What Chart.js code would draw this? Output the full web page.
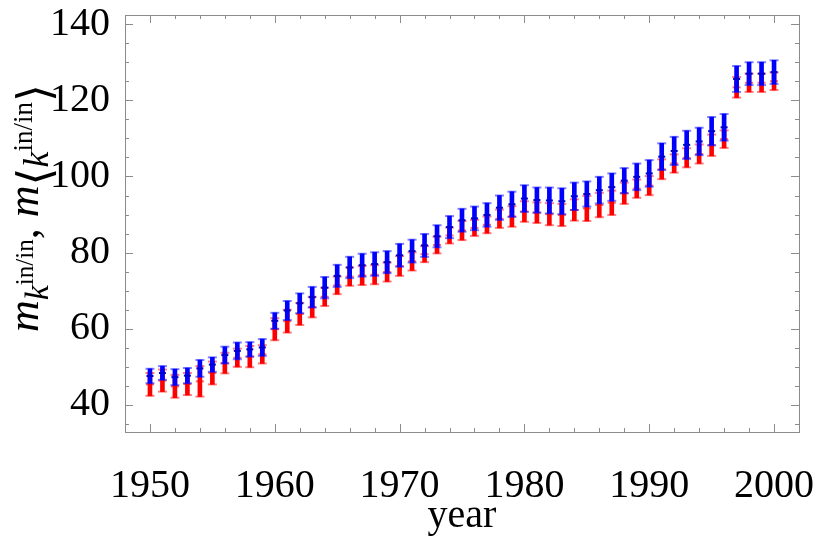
<!DOCTYPE html>
<html>
<head>
<meta charset="utf-8">
<script src="https://cdn.jsdelivr.net/npm/chart.js@4.4.0/dist/chart.umd.min.js"></script>
<style>
  html, body { margin: 0; padding: 0; background: #fff; }
  #wrap { width: 830px; height: 558px; }
</style>
</head>
<body>
<div id="wrap"><canvas id="chart" width="830" height="558"></canvas></div>
<script>
const years = [1950,1951,1952,1953,1954,1955,1956,1957,1958,1959,
  1960,1961,1962,1963,1964,1965,1966,1967,1968,1969,
  1970,1971,1972,1973,1974,1975,1976,1977,1978,1979,
  1980,1981,1982,1983,1984,1985,1986,1987,1988,1989,
  1990,1991,1992,1993,1994,1995,1996,1997,1998,1999,2000];

// m_k (red): value and error bar half width
const redVal = [45.4,46.4,44.9,45.5,46.2,48.4,51.0,52.4,52.7,53.3,
  59.9,62.0,63.9,65.7,68.4,71.4,73.7,74.0,74.2,74.9,
  76.5,77.7,79.6,82.0,84.5,85.8,86.5,87.3,88.9,89.5,
  90.8,90.5,90.1,89.9,91.2,91.6,92.5,93.1,95.6,96.8,
  97.6,101.9,103.4,104.9,105.9,108.2,109.8,123.4,124.6,124.6,125.0];
const redErr = [3.0,2.9,3.0,2.9,4.0,3.0,2.7,2.4,2.8,2.4,
  2.9,3.0,2.9,2.7,2.4,2.3,2.4,2.5,2.5,2.5,
  2.6,2.4,2.1,2.2,2.1,2.5,2.1,2.2,2.4,2.7,
  2.7,2.7,2.9,2.9,2.8,3.3,3.2,3.2,2.8,2.4,
  2.5,2.6,2.4,2.5,2.5,2.8,2.3,2.7,2.4,2.4,2.3];

// m_<k> (blue): value and error bar half width
const blueVal = [47.6,48.4,47.3,47.7,49.6,50.6,53.1,54.2,54.6,55.1,
  62.1,64.8,66.7,68.3,70.8,73.9,76.1,76.7,77.0,77.5,
  79.3,80.4,81.9,84.3,86.7,88.5,89.0,89.9,91.8,92.7,
  94.2,93.8,93.7,93.5,94.8,95.4,96.4,97.2,98.9,99.9,
  100.8,105.2,106.7,108.3,109.2,111.9,112.9,125.6,127.0,127.0,127.4];
const blueErr = [1.9,1.8,2.1,2.0,2.2,1.9,2.2,2.2,1.9,2.2,
  2.1,2.5,2.6,2.7,2.8,2.9,2.8,3.0,3.1,2.9,
  3.0,3.0,3.0,2.9,2.9,3.0,3.1,3.1,3.2,3.3,
  3.5,3.3,3.4,3.4,3.6,3.3,3.5,3.6,3.3,3.5,
  3.5,3.5,3.7,3.7,3.6,3.7,3.5,3.4,3.0,3.0,3.1];

const xTicks = [1950, 1960, 1970, 1980, 1990, 2000];
const yTicks = [40, 60, 80, 100, 120, 140];

const SERIF = "'Liberation Serif', 'DejaVu Serif', serif";
const RED = "#ff0000";
const BLUE = "#0000ff";

function barData(val, err) {
  return years.map((x, i) => ({ x, y: [val[i] - err[i], val[i] + err[i]] }));
}
function pts(val, err, sign) {
  return years.map((x, i) => ({ x, y: val[i] + sign * err[i] }));
}
function markSet(data, color, radius, width, order) {
  return {
    type: "scatter",
    data,
    pointStyle: "line",
    pointRadius: radius,
    pointBorderWidth: width,
    borderColor: color,
    backgroundColor: color,
    order
  };
}

// Mathematica style frame: box plus inward ticks on all four sides
const framePlugin = {
  id: "frame",
  afterDatasetsDraw(chart) {
    const { ctx, chartArea: a, scales: { x, y } } = chart;
    ctx.save();
    ctx.strokeStyle = "#8c8c8c";
    ctx.lineWidth = 1;
    ctx.beginPath();
    for (let v = 1948; v <= 2002; v += 2) {
      const px = Math.round(x.getPixelForValue(v)) + 0.5;
      const len = xTicks.includes(v) ? 8 : 4;
      ctx.moveTo(px, a.bottom); ctx.lineTo(px, a.bottom - len);
      ctx.moveTo(px, a.top); ctx.lineTo(px, a.top + len);
    }
    for (let v = 35; v <= 140; v += 5) {
      const py = Math.round(y.getPixelForValue(v)) + 0.5;
      const len = yTicks.includes(v) ? 8 : 4;
      ctx.moveTo(a.left, py); ctx.lineTo(a.left + len, py);
      ctx.moveTo(a.right, py); ctx.lineTo(a.right - len, py);
    }
    ctx.stroke();
    ctx.strokeRect(Math.round(a.left) + 0.5, Math.round(a.top) + 0.5,
      Math.round(a.right - a.left), Math.round(a.bottom - a.top));
    ctx.restore();
  }
};

// y title with sub/superscripts, drawn rotated
const yTitleParts = [
  { t: "m", size: 44, italic: true, dy: 0 },
  { t: "k", size: 34, italic: true, dy: 10 },
  { t: "in/in", size: 25, italic: false, dy: -5 },
  { t: ", ", size: 44, italic: false, dy: 0 },
  { t: "m", size: 44, italic: true, dy: 0 },
  { t: "\u27E8", size: 46, italic: false, dy: 12 },
  { t: "k", size: 36, italic: true, dy: 10 },
  { t: "in/in", size: 27, italic: false, dy: -6 },
  { t: "\u27E9", size: 46, italic: false, dy: 12 }
];
const yTitlePlugin = {
  id: "yTitle",
  afterDraw(chart) {
    const ctx = chart.ctx;
    ctx.save();
    ctx.translate(38, 332);
    ctx.rotate(-Math.PI / 2);
    ctx.fillStyle = "#000";
    ctx.textBaseline = "alphabetic";
    let pos = 0;
    for (const p of yTitleParts) {
      ctx.font = (p.italic ? "italic " : "") + p.size + "px " + SERIF;
      ctx.fillText(p.t, pos, p.dy);
      pos += ctx.measureText(p.t).width;
    }
    ctx.restore();
  }
};

const blueCap = "rgba(0,0,255,0.5)";
const redCap = "rgba(255,0,0,0.5)";

new Chart(document.getElementById("chart"), {
  type: "bar",
  data: {
    datasets: [
      markSet(pts(blueVal, blueErr, 0), "#0000cc", 3.5, 2, 0),
      markSet(pts(blueVal, blueErr, -1), blueCap, 4.5, 2, 0),
      markSet(pts(blueVal, blueErr, 1), blueCap, 4.5, 2, 0),
      { data: barData(blueVal, blueErr), backgroundColor: BLUE, barThickness: 4, grouped: false, order: 1 },
      markSet(pts(redVal, redErr, 0), "rgba(255,0,0,0.6)", 4, 2, 2),
      markSet(pts(redVal, redErr, -1), redCap, 4.5, 2, 2),
      markSet(pts(redVal, redErr, 1), redCap, 4.5, 2, 2),
      { data: barData(redVal, redErr), backgroundColor: RED, barThickness: 4, grouped: false, order: 3 }
    ]
  },
  options: {
    responsive: false,
    animation: false,
    events: [],
    devicePixelRatio: 1,
    layout: { padding: { left: 0, right: 31, top: 15, bottom: 0 } },
    plugins: { legend: { display: false }, tooltip: { enabled: false } },
    scales: {
      x: {
        type: "linear",
        offset: false,
        min: 1948,
        max: 2002,
        grid: { display: false },
        border: { display: false },
        afterBuildTicks: (s) => { s.ticks = xTicks.map(v => ({ value: v })); },
        afterFit: (s) => { s.height = 126; s.paddingLeft = 0; s.paddingRight = 0; },
        ticks: { font: { family: SERIF, size: 40 }, color: "#000", padding: 22, maxRotation: 0, callback: (v) => String(v) },
        title: { display: true, text: "year", font: { family: SERIF, size: 40 }, color: "#000", padding: { top: 0, bottom: 18 } }
      },
      y: {
        min: 32.9,
        max: 142.4,
        grid: { display: false },
        border: { display: false },
        afterBuildTicks: (s) => { s.ticks = yTicks.map(v => ({ value: v })); },
        afterFit: (s) => { s.width = 125; s.paddingTop = 0; s.paddingBottom = 0; },
        ticks: { font: { family: SERIF, size: 40 }, color: "#000", padding: 7 }
      }
    }
  },
  plugins: [framePlugin, yTitlePlugin]
});
</script>
</body>
</html>
